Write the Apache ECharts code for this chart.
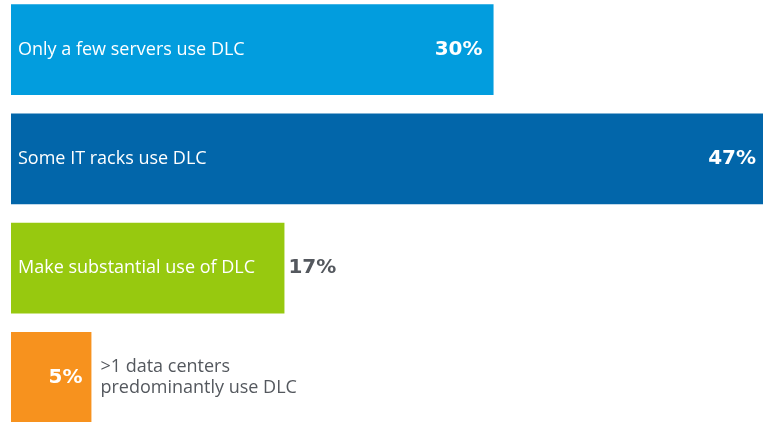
<!DOCTYPE html>
<html><head><meta charset="utf-8">
<script src="https://cdn.jsdelivr.net/npm/echarts@6/dist/echarts.min.js"></script>
<style>html,body{margin:0;padding:0;background:#fff}#c{width:763px;height:422px}</style>
</head><body><div id="c"></div>
<script>
const categories = ["Only a few servers use DLC", "Some IT racks use DLC", "Make substantial use of DLC", ">1 data centers\npredominantly use DLC"];
const values = [30, 47, 17, 5];
const colors = ["#029dde", "#0266aa", "#97c90f", "#f7921e"];

const chart = echarts.init(document.getElementById('c'));
const gray = '#54585e';
const valueLabels = values.map((v, i) => {
  const outside = i === 2;
  return {
    value: v,
    itemStyle: { color: colors[i] },
    label: {
      show: true,
      position: outside ? 'right' : 'insideRight',
      distance: outside ? 4 : (i === 3 ? 9 : 11),
      color: outside ? gray : '#fff'
    }
  };
});
const nameLabels = values.map((v, i) => {
  const outside = i === 3;
  return {
    value: v,
    label: {
      show: true,
      position: outside ? 'right' : 'insideLeft',
      distance: outside ? 9 : 7,
      color: outside ? gray : '#fff',
      lineHeight: 21
    }
  };
});
chart.setOption({
  animation: false,
  grid: { left: 11, top: -5, width: 756, height: 437, containLabel: false, outerBoundsMode: 'none' },
  xAxis: { type: 'value', min: 0, max: 47, show: false },
  yAxis: { type: 'category', data: categories, inverse: true, show: false },
  series: [
    {
      type: 'bar', data: valueLabels, barCategoryGap: '16.8%', silent: true,
      label: { fontFamily: 'DejaVu Sans', fontWeight: 'bold', fontSize: 20, formatter: p => p.value + '%' }
    },
    {
      type: 'bar', data: nameLabels, barGap: '-100%', barCategoryGap: '16.8%', silent: true,
      itemStyle: { color: 'rgba(0,0,0,0)' },
      label: { fontFamily: 'Open Sans', fontSize: 18, formatter: p => p.name }
    }
  ]
});
</script></body></html>
